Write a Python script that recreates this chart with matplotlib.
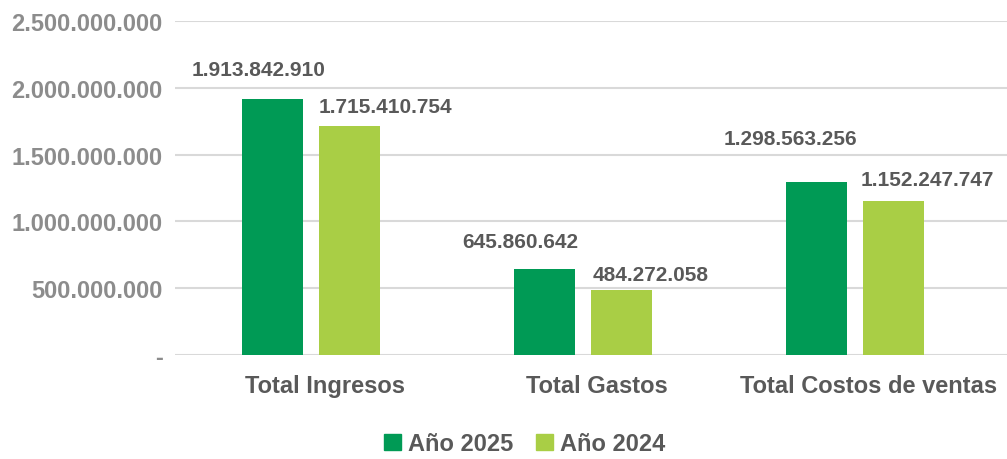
import matplotlib
matplotlib.use("Agg")
import matplotlib.pyplot as plt
import matplotlib.transforms as mtransforms
from matplotlib.patches import Patch
import numpy as np

plt.rcParams['font.family'] = ['Liberation Sans', 'DejaVu Sans']
plt.rcParams['font.weight'] = 'bold'

categorias = ['Total Ingresos', 'Total Gastos', 'Total Costos de ventas']
anio_2025 = [1913842910, 645860642, 1298563256]
anio_2024 = [1715410754, 484272058, 1152247747]
series = ['Año 2025', 'Año 2024']
yticks = [0, 500000000, 1000000000, 1500000000, 2000000000, 2500000000]

verde = '#009A55'
verde_claro = '#A9CE45'
gris_txt = '#595959'
gris_eje = '#8C8C8C'


def fmt(v):
    return '-' if v == 0 else f'{v:,.0f}'.replace(',', '.')


fig = plt.figure(figsize=(10.07, 4.60), dpi=100)
ax = fig.add_axes([175 / 1007, 104 / 460, 832 / 1007, 334 / 460])

x = np.arange(len(categorias))
w = 0.224
off = 0.142
b1 = ax.bar(x - off, anio_2025, w, color=verde, zorder=3)
b2 = ax.bar(x + off, anio_2024, w, color=verde_claro, zorder=3)

# label offsets (pixels) as in the original, Excel-style
off1 = [(-14, 30), (-24, 27), (-26, 43)]
off2 = [(36, 19), (29, 16), (34, 22)]
for bars, offs in ((b1, off1), (b2, off2)):
    for r, (dx, dy) in zip(bars, offs):
        ax.annotate(fmt(r.get_height()),
                    (r.get_x() + r.get_width() / 2, r.get_height()),
                    xytext=(dx * 0.72, dy * 0.72), textcoords='offset points',
                    ha='center', va='center', fontsize=15, color=gris_txt,
                    fontweight='bold')

ax.set_ylim(0, 2500000000)
ax.set_xlim(-0.5, -0.5 + 832 / 272)
ax.set_yticks(yticks)
ax.set_yticklabels([fmt(v) for v in yticks], fontsize=17, color=gris_eje)
ax.set_xticks(x)
ax.set_xticklabels(categorias, fontsize=17, color=gris_txt)
ax.tick_params(axis='y', length=0, pad=9)
ax.tick_params(axis='x', length=0, pad=14)
shift = mtransforms.ScaledTranslation(0.14, 0, fig.dpi_scale_trans)
for lbl in ax.get_xticklabels():
    lbl.set_transform(lbl.get_transform() + shift)
ax.grid(axis='y', color='#D9D9D9', linewidth=1.5, zorder=0)
for s in ax.spines.values():
    s.set_visible(False)

handles = [Patch(color=verde, label=series[0]), Patch(color=verde_claro, label=series[1])]
fig.legend(handles=handles, loc='center', bbox_to_anchor=(0.521, 0.033), ncol=2,
           frameon=False, prop={'size': 17, 'weight': 'bold'}, labelcolor=gris_txt,
           handlelength=0.7, handleheight=0.7, handletextpad=0.3, columnspacing=1.0)

fig.savefig('out.png', dpi=100)
